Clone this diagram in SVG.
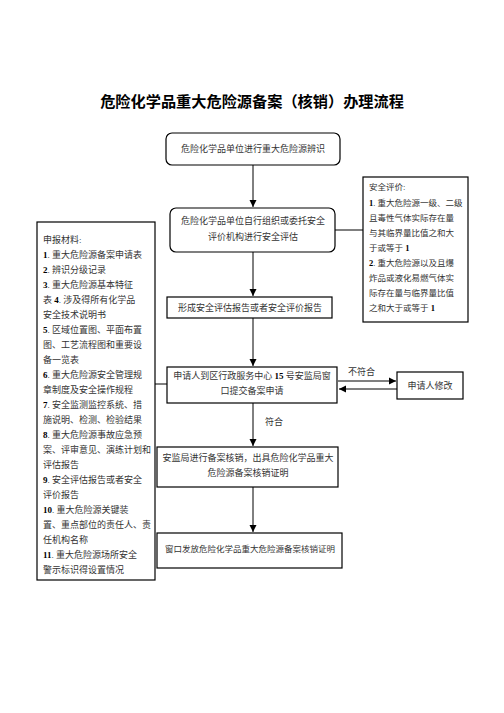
<svg xmlns="http://www.w3.org/2000/svg" width="504" height="713" viewBox="0 0 504 713">
<style>
.bx{fill:#fff;stroke:#000;stroke-width:1.2}
.ln{stroke:#000;stroke-width:1;fill:none}
.t{font-family:"Liberation Serif","Noto Sans CJK SC",serif;font-size:9px;fill:#333}
.s{font-size:8.5px}
.c{text-anchor:middle}
.b{font-weight:bold;fill:#000}
.title{font-family:"Noto Sans CJK SC",sans-serif;font-size:15.2px;font-weight:bold;fill:#000;text-anchor:middle}
</style>
<defs>
<marker id="ah" markerWidth="8" markerHeight="8" refX="7" refY="4" orient="auto" markerUnits="userSpaceOnUse">
<path d="M0,0.5 L7,4 L0,7.5 Z" fill="#000"/>
</marker>
</defs>
<rect width="504" height="713" fill="#fff"/>
<text class="title" x="252" y="107">危险化学品重大危险源备案（核销）办理流程</text>

<g id="connectors">
<line class="ln" x1="253" y1="165" x2="253" y2="207" marker-end="url(#ah)"/>
<line class="ln" x1="253" y1="252" x2="253" y2="296" marker-end="url(#ah)"/>
<line class="ln" x1="253" y1="318" x2="253" y2="366" marker-end="url(#ah)"/>
<line class="ln" x1="253" y1="403" x2="253" y2="446" marker-end="url(#ah)"/>
<line class="ln" x1="253" y1="487" x2="253" y2="532" marker-end="url(#ah)"/>
<line class="ln" x1="335" y1="230" x2="363" y2="230"/>
<line class="ln" x1="155" y1="384" x2="167" y2="384"/>
<line class="ln" x1="338" y1="381" x2="396" y2="381" marker-end="url(#ah)"/>
<line class="ln" x1="397" y1="389" x2="339" y2="389" marker-end="url(#ah)"/>
<text class="t" x="348" y="375">不符合</text>
<text class="t" x="265" y="425">符合</text>
</g>

<g id="n1">
<rect class="bx" x="166" y="133" width="174" height="32" rx="6"/>
<text class="t c" x="253" y="152">危险化学品单位进行重大危险源辨识</text>
</g>

<g id="n2">
<rect class="bx" x="170" y="208" width="165" height="44" rx="6"/>
<text class="t c" x="253" y="224">危险化学品单位自行组织或委托安全</text>
<text class="t c" x="253" y="240">评价机构进行安全评估</text>
</g>

<g id="n3">
<rect class="bx" x="363" y="177" width="105" height="145"/>
<text class="t s" x="369" y="190">安全评价:</text>
<text class="t s" x="369" y="205.5"><tspan class="b">1</tspan>. 重大危险源一级、二级</text>
<text class="t s" x="369" y="220.5">且毒性气体实际存在量</text>
<text class="t s" x="369" y="235.5">与其临界量比值之和大</text>
<text class="t s" x="369" y="250.5">于或等于 <tspan class="b">1</tspan></text>
<text class="t s" x="369" y="266"><tspan class="b">2</tspan>. 重大危险源以及且爆</text>
<text class="t s" x="369" y="281">炸品或液化易燃气体实</text>
<text class="t s" x="369" y="296">际存在量与临界量比值</text>
<text class="t s" x="369" y="311">之和大于或等于 <tspan class="b">1</tspan></text>
</g>

<g id="n4">
<rect class="bx" x="167" y="297" width="165" height="21"/>
<text class="t c" x="250" y="311">形成安全评估报告或者安全评价报告</text>
</g>

<g id="n5">
<rect class="bx" x="37" y="222" width="118" height="358"/>
<text class="t" x="43" y="243">申报材料:</text>
<text class="t" x="43" y="258"><tspan class="b">1</tspan>. 重大危险源备案申请表</text>
<text class="t" x="43" y="273"><tspan class="b">2</tspan>. 辨识分级记录</text>
<text class="t" x="43" y="288"><tspan class="b">3</tspan>. 重大危险源基本特征</text>
<text class="t" x="43" y="303">表 <tspan class="b">4</tspan>. 涉及得所有化学品</text>
<text class="t" x="43" y="318">安全技术说明书</text>
<text class="t" x="43" y="333"><tspan class="b">5</tspan>. 区域位置图、平面布置</text>
<text class="t" x="43" y="348">图、工艺流程图和重要设</text>
<text class="t" x="43" y="363">备一览表</text>
<text class="t" x="43" y="378"><tspan class="b">6</tspan>. 重大危险源安全管理规</text>
<text class="t" x="43" y="393">章制度及安全操作规程</text>
<text class="t" x="43" y="408"><tspan class="b">7</tspan>. 安全监测监控系统、措</text>
<text class="t" x="43" y="423">施说明、检测、检验结果</text>
<text class="t" x="43" y="438"><tspan class="b">8</tspan>. 重大危险源事故应急预</text>
<text class="t" x="43" y="453">案、评审意见、演练计划和</text>
<text class="t" x="43" y="468">评估报告</text>
<text class="t" x="43" y="483"><tspan class="b">9</tspan>. 安全评估报告或者安全</text>
<text class="t" x="43" y="498">评价报告</text>
<text class="t" x="43" y="513"><tspan class="b">10</tspan>. 重大危险源关键装</text>
<text class="t" x="43" y="528">置、重点部位的责任人、责</text>
<text class="t" x="43" y="543">任机构名称</text>
<text class="t" x="43" y="558"><tspan class="b">11</tspan>. 重大危险源场所安全</text>
<text class="t" x="43" y="573">警示标识得设置情况</text>
</g>

<g id="n6">
<rect class="bx" x="167" y="367" width="170" height="36"/>
<text class="t c" x="252" y="379">申请人到区行政服务中心 <tspan class="b">15</tspan> 号安监局窗</text>
<text class="t c" x="252" y="394">口提交备案申请</text>
</g>

<g id="n7">
<rect class="bx" x="397" y="372" width="66" height="27"/>
<text class="t c" x="430" y="389">申请人修改</text>
</g>

<g id="n8">
<rect class="bx" x="157" y="447" width="181" height="40"/>
<text class="t c" x="248" y="461">安监局进行备案核销，出具危险化学品重大</text>
<text class="t c" x="248" y="476">危险源备案核销证明</text>
</g>

<g id="n9">
<rect class="bx" x="157" y="533" width="185" height="35"/>
<text class="t c s" x="250" y="552">窗口发放危险化学品重大危险源备案核销证明</text>
</g>
</svg>
